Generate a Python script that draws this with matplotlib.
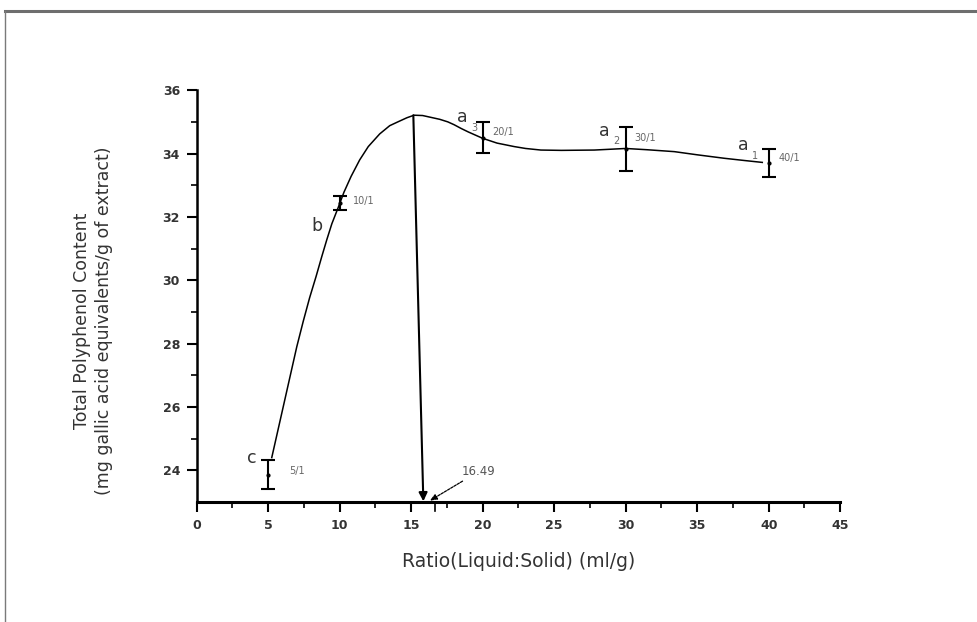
import matplotlib
matplotlib.use("Agg")
import matplotlib.pyplot as plt
from matplotlib.lines import Line2D
from matplotlib.ticker import MultipleLocator, FixedLocator

# --- data ---
ratio_x = [5, 10, 20, 30, 40]
tpc_mean = [23.86, 32.44, 34.50, 34.15, 33.70]
tpc_err = [0.45, 0.22, 0.48, 0.69, 0.43]
ratio_labels = ["5/1", "10/1", "20/1", "30/1", "40/1"]
letters = ["c", "b", "a", "a", "a"]
letter_subs = ["", "", "3", "2", "1"]

# smooth fitted curve
curve_x = [5.25, 5.7, 6.1, 6.55, 7.0, 7.45, 7.9, 8.35, 8.75, 9.1, 9.45, 9.9, 10.3, 10.8,
           11.4, 12.0, 12.8, 13.5, 14.07, 14.7, 15.2, 15.8, 16.4, 17.0, 17.56, 18.0,
           18.5, 19.0, 19.5, 20.0, 21.0, 22.2, 23.0, 24.07, 25.5, 27.8, 30.0, 31.5,
           33.4, 35.0, 36.9, 38.3, 39.55]
curve_y = [24.40, 25.30, 26.10, 27.00, 27.90, 28.70, 29.45, 30.12, 30.75, 31.28, 31.78, 32.30,
           32.78, 33.28, 33.80, 34.22, 34.62, 34.88, 35.00, 35.13, 35.21, 35.20, 35.14,
           35.08, 35.00, 34.91, 34.79, 34.68, 34.58, 34.48, 34.33, 34.22, 34.16, 34.11,
           34.10, 34.11, 34.16, 34.12, 34.06, 33.96, 33.85, 33.78, 33.72]

peak_x, peak_y = 15.15, 35.21
foot_x = 15.85
opt_value = "16.49"

fig = plt.figure(figsize=(9.77, 6.22), dpi=100)
fig.patch.set_facecolor("white")
ax = fig.add_axes([0.2013, 0.193, 0.6587, 0.662])

ax.plot(curve_x, curve_y, color="black", lw=1.1)
ax.errorbar(ratio_x, tpc_mean, yerr=tpc_err, fmt="o", ms=2, color="black",
            ecolor="black", elinewidth=1.5, capsize=5, capthick=1.5)

# vertical line from the peak to the x axis
ax.annotate("", xy=(foot_x, 23.02), xytext=(peak_x, peak_y),
            arrowprops=dict(arrowstyle="-|>,head_length=0.5,head_width=0.25",
                            color="black", lw=1.5, shrinkA=0, shrinkB=0))
# annotation of optimum ratio
ax.annotate(opt_value, xy=(16.3, 23.04), xytext=(18.5, 23.95),
            fontsize=8.5, color="#555555", va="center", ha="left",
            arrowprops=dict(arrowstyle="-|>,head_length=0.5,head_width=0.2",
                            color="black", lw=0.9, ls=(0, (2, 1)),
                            shrinkA=0, shrinkB=0))
ax.plot([16.7, 16.7], [23.0, 22.72], color="black", lw=1.2, clip_on=False)

# ratio labels
lab_pos = [(6.5, 23.97), (10.9, 32.50), (20.7, 34.69), (30.6, 34.48), (40.7, 33.85)]
for (lx, ly), t in zip(lab_pos, ratio_labels):
    ax.text(lx, ly, t, fontsize=7, color="#666666", ha="left", va="center")

# significance letters
let_pos = [(3.85, 24.40), (8.4, 31.72), (18.6, 35.15), (28.5, 34.72), (38.2, 34.26)]
for (lx, ly), t, s in zip(let_pos, letters, letter_subs):
    ax.text(lx, ly, t, fontsize=12.5, color="#333333", ha="center", va="center")
    if s:
        ax.text(lx + 0.85, ly - 0.33, s, fontsize=7, color="#666666", ha="center", va="center")

ax.set_xlim(0, 45)
ax.set_ylim(23, 36)
ax.xaxis.set_major_locator(MultipleLocator(5))
ax.xaxis.set_minor_locator(MultipleLocator(2.5))
ax.yaxis.set_major_locator(FixedLocator([24, 26, 28, 30, 32, 34, 36]))
ax.yaxis.set_minor_locator(FixedLocator([25, 27, 29, 31, 33, 35]))

for side in ["top", "right"]:
    ax.spines[side].set_visible(False)
ax.spines["left"].set_linewidth(1.8)
ax.spines["bottom"].set_linewidth(2.2)
ax.tick_params(axis="both", which="major", direction="out", length=7, width=1.5,
               labelsize=9, labelcolor="#333333", pad=5)
ax.tick_params(axis="both", which="minor", direction="out", length=4, width=1.2)
for lab in ax.get_xticklabels() + ax.get_yticklabels():
    lab.set_fontweight("bold")

ax.set_xlabel("Ratio(Liquid:Solid) (ml/g)", fontsize=13.5, color="#333333", labelpad=15)
ax.set_ylabel("Total Polyphenol Content\n(mg gallic acid equivalents/g of extract)",
              fontsize=12.5, color="#333333", linespacing=1.3)
ax.yaxis.set_label_coords(-0.13, 0.439)

# frame lines of the screenshot
fig.add_artist(Line2D([4.5 / 977, 1.0], [1 - 11 / 622, 1 - 11 / 622],
                      transform=fig.transFigure, color="#6e6e6e", lw=2.2))
fig.add_artist(Line2D([4.5 / 977, 4.5 / 977], [0.0, 1 - 11 / 622],
                      transform=fig.transFigure, color="#7a7a7a", lw=1.0))

fig.savefig("out.png", dpi=100, facecolor="white")
